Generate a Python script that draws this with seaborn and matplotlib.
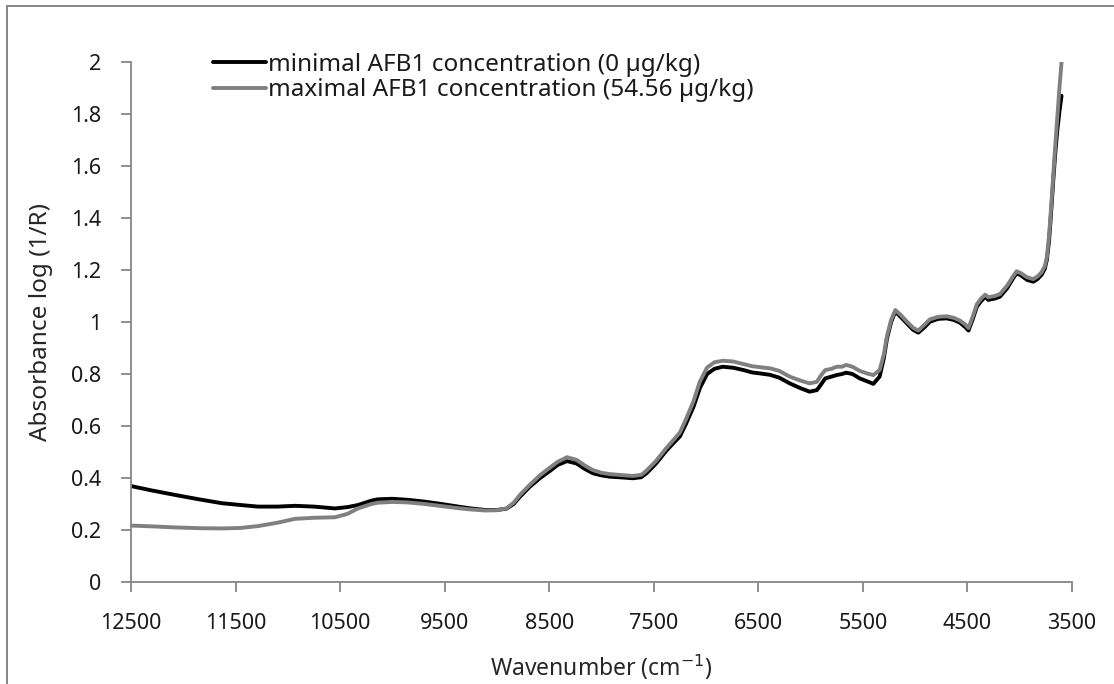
import matplotlib
matplotlib.use("Agg")
import matplotlib.pyplot as plt
from matplotlib.lines import Line2D
from matplotlib.ticker import FuncFormatter, MultipleLocator
import numpy as np
import pandas as pd
import seaborn as sns

# Wavenumber grid (cm-1), shared by both spectra
wavenumber = [
    12500, 12300, 12080, 11850, 11630, 11450, 11285, 11100, 10930, 10750,
    10550, 10430, 10330, 10200, 10140, 10000, 9850, 9690, 9530, 9370,
    9250, 9110, 9000, 8910, 8840, 8780, 8690, 8590, 8500, 8420,
    8330, 8240, 8160, 8080, 8000, 7920, 7800, 7700, 7620, 7570,
    7480, 7380, 7310, 7250, 7190, 7120, 7060, 6990, 6920, 6840,
    6740, 6640, 6560, 6480, 6390, 6300, 6200, 6100, 6010, 5940,
    5900, 5860, 5800, 5750, 5700, 5660, 5600, 5530, 5460, 5400,
    5340, 5300, 5270, 5230, 5190, 5140, 5080, 5020, 4970, 4910,
    4860, 4780, 4700, 4630, 4570, 4520, 4490, 4450, 4410, 4370,
    4330, 4300, 4280, 4240, 4190, 4120, 4060, 4030, 3990, 3930,
    3870, 3830, 3790, 3760, 3740, 3720, 3700, 3680, 3660, 3640,
    3620, 3600,
]

# Absorbance log(1/R), AFB1 = 0 ug/kg
absorbance_min = [
    0.369, 0.352, 0.335, 0.318, 0.303, 0.296, 0.290, 0.290, 0.293, 0.290,
    0.283, 0.288, 0.296, 0.313, 0.318, 0.320, 0.316, 0.309, 0.300, 0.290,
    0.283, 0.277, 0.277, 0.282, 0.300, 0.328, 0.365, 0.399, 0.425, 0.450,
    0.465, 0.456, 0.435, 0.418, 0.410, 0.405, 0.402, 0.399, 0.403, 0.418,
    0.455, 0.505, 0.535, 0.560, 0.610, 0.674, 0.745, 0.800, 0.820, 0.828,
    0.824, 0.815, 0.806, 0.802, 0.797, 0.786, 0.764, 0.746, 0.732, 0.738,
    0.760, 0.783, 0.790, 0.796, 0.800, 0.805, 0.800, 0.783, 0.772, 0.762,
    0.790, 0.860, 0.935, 1.000, 1.040, 1.020, 0.995, 0.970, 0.959, 0.980,
    1.001, 1.012, 1.014, 1.008, 0.997, 0.980, 0.967, 1.010, 1.059, 1.080,
    1.097, 1.085, 1.087, 1.090, 1.097, 1.130, 1.170, 1.187, 1.180, 1.162,
    1.155, 1.165, 1.182, 1.205, 1.240, 1.310, 1.420, 1.540, 1.650, 1.740,
    1.810, 1.870,
]

# Absorbance log(1/R), AFB1 = 54.56 ug/kg
absorbance_max = [
    0.217, 0.214, 0.210, 0.207, 0.206, 0.208, 0.215, 0.228, 0.243, 0.247,
    0.249, 0.262, 0.283, 0.300, 0.305, 0.308, 0.306, 0.300, 0.292, 0.284,
    0.279, 0.275, 0.276, 0.283, 0.305, 0.335, 0.372, 0.410, 0.438, 0.462,
    0.480, 0.470, 0.448, 0.430, 0.420, 0.415, 0.411, 0.408, 0.412, 0.428,
    0.465, 0.515, 0.547, 0.575, 0.628, 0.695, 0.770, 0.825, 0.845, 0.851,
    0.848, 0.838, 0.830, 0.826, 0.822, 0.812, 0.790, 0.775, 0.764, 0.770,
    0.795, 0.815, 0.820, 0.828, 0.828, 0.835, 0.828, 0.812, 0.802, 0.796,
    0.815, 0.875, 0.945, 1.008, 1.046, 1.028, 1.002, 0.978, 0.967, 0.990,
    1.010, 1.020, 1.022, 1.016, 1.005, 0.990, 0.977, 1.020, 1.068, 1.090,
    1.105, 1.095, 1.097, 1.100, 1.107, 1.140, 1.178, 1.195, 1.188, 1.172,
    1.165, 1.175, 1.192, 1.215, 1.250, 1.330, 1.440, 1.560, 1.680, 1.790,
    1.900, 2.000,
]

series_labels = [
    "minimal AFB1 concentration (0 µg/kg)",
    "maximal AFB1 concentration (54.56 µg/kg)",
]
series_colors = ["#000000", "#808080"]

x_ticks = [12500, 11500, 10500, 9500, 8500, 7500, 6500, 5500, 4500, 3500]

df = pd.concat([
    pd.DataFrame({"wn": wavenumber, "A": absorbance_min, "series": series_labels[0]}),
    pd.DataFrame({"wn": wavenumber, "A": absorbance_max, "series": series_labels[1]}),
], ignore_index=True)

sns.set_theme(style="white")
plt.rcParams["font.family"] = ["Noto Sans", "DejaVu Sans"]
plt.rcParams["text.color"] = "#1a1a1a"

W, H = 1114, 684
fig = plt.figure(figsize=(W / 100, H / 100), dpi=100)
ax = fig.add_axes([131 / W, 1 - 582 / H, (1072 - 131) / W, (582 - 62) / H])

sns.lineplot(
    data=df, x="wn", y="A", hue="series", hue_order=series_labels,
    palette=dict(zip(series_labels, series_colors)),
    estimator=None, linewidth=2.8, ax=ax, legend=False,
)

axis_gray = "#868686"
ax.set_xlim(12500, 3500)
ax.set_ylim(0, 2)
ax.set_xticks(x_ticks)
ax.set_xticklabels([str(t) for t in x_ticks])
ax.yaxis.set_major_locator(MultipleLocator(0.2))
ax.yaxis.set_major_formatter(FuncFormatter(lambda v, p: f"{v:g}"))

for side in ("top", "right"):
    ax.spines[side].set_visible(False)
for side in ("left", "bottom"):
    ax.spines[side].set_color(axis_gray)
    ax.spines[side].set_linewidth(1.3)

ax.tick_params(axis="both", which="major", direction="out", length=7.5,
               width=1.3, color=axis_gray, labelsize=15.5, labelcolor="#1a1a1a")
ax.tick_params(axis="y", pad=14)
ax.tick_params(axis="x", pad=15)
ax.tick_params(left=True, bottom=True)

ax.set_xlabel("Wavenumber (cm$^{-1}$)", fontsize=16.5, labelpad=13)
ax.set_ylabel("Absorbance log (1/R)", fontsize=17.5, labelpad=13)

handles = [Line2D([0], [0], color=c, lw=2.8) for c in series_colors]
fig.legend(handles, series_labels, loc="upper left",
           bbox_to_anchor=(213 / W, 1 - 53 / H), frameon=False,
           fontsize=17.5, handlelength=2.2, handletextpad=0.05,
           labelspacing=0.05, borderpad=0, borderaxespad=0)

# Outer frame (top and left edges)
fig.add_artist(Line2D([7 / W, 1.0], [1 - 6 / H, 1 - 6 / H], color=axis_gray, lw=1.4,
                      transform=fig.transFigure))
fig.add_artist(Line2D([7 / W, 7 / W], [0.0, 1 - 6 / H], color=axis_gray, lw=1.4,
                      transform=fig.transFigure))

fig.savefig("out.png", dpi=100, facecolor="white")
